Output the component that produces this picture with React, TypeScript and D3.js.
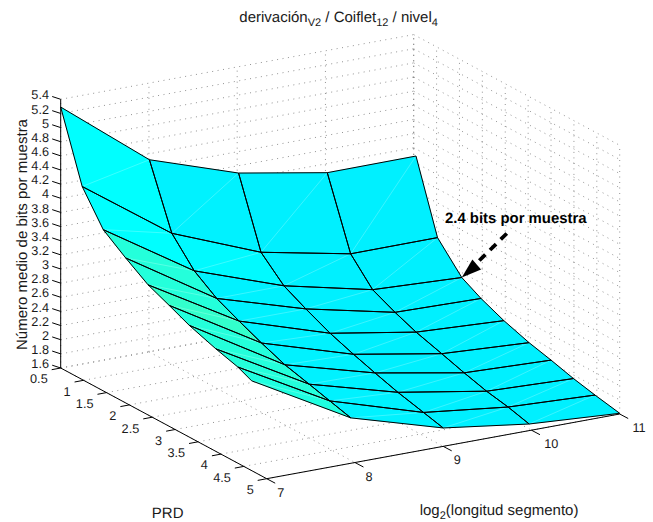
import React from "react";
import * as d3 from "d3";

// axis ticks
const xTicks = [7, 8, 9, 10, 11];
const prdTicks = [0.5, 1, 1.5, 2, 2.5, 3, 3.5, 4, 4.5, 5];
const zTicks = [1.6, 1.8, 2, 2.2, 2.4, 2.6, 2.8, 3, 3.2, 3.4, 3.6, 3.8, 4, 4.2, 4.4, 4.6, 4.8, 5, 5.2, 5.4];

// achieved PRD for each segment length (one list per log2 length)
const prd7 = [0.5, 0.97, 1.43, 1.92, 2.41, 2.87, 3.31, 3.89, 4.37, 4.67];
const prd8 = [0.51, 1.0, 1.49, 1.98, 2.47, 2.96, 3.47, 4.0, 4.45, 4.91];
const prd9 = [0.53, 1.02, 1.52, 2.0, 2.53, 3.04, 3.51, 4.01, 4.57, 5.0];
const prd10 = [0.54, 1.05, 1.53, 2.02, 2.48, 3.04, 3.53, 4.02, 4.49, 4.95];
const prd11 = [0.55, 1.02, 1.55, 1.97, 2.47, 3.02, 3.5, 3.99, 4.46, 5.0];

// mean bits per sample
const bits7 = [5.29, 4.33, 3.88, 3.65, 3.44, 3.31, 3.18, 3.05, 2.96, 2.87];
const bits8 = [4.32, 3.45, 3.09, 2.87, 2.72, 2.58, 2.45, 2.36, 2.28, 2.2];
const bits9 = [3.91, 2.96, 2.66, 2.5, 2.34, 2.22, 2.12, 2.02, 1.93, 1.86];
const bits10 = [3.69, 2.72, 2.38, 2.23, 2.11, 2.0, 1.9, 1.81, 1.75, 1.67];
const bits11 = [3.7, 2.71, 2.33, 2.18, 2.04, 1.92, 1.84, 1.75, 1.68, 1.61];

// colour level of each cell (jet colormap position), one list per x interval
const level7 = [0.375, 0.375, 0.41, 0.41, 0.425, 0.41, 0.41, 0.41, 0.405];
const level8 = [0.362, 0.37, 0.362, 0.362, 0.362, 0.362, 0.362, 0.362, 0.362];
const level9 = [0.36, 0.36, 0.36, 0.36, 0.36, 0.36, 0.36, 0.36, 0.36];
const level10 = [0.36, 0.36, 0.36, 0.36, 0.36, 0.36, 0.36, 0.36, 0.36];

const prdColumns = [prd7, prd8, prd9, prd10, prd11];
const bitsColumns = [bits7, bits8, bits9, bits10, bits11];
const levelColumns = [level7, level8, level9, level10];

const width = 653;
const height = 522;
const font = "'Liberation Sans', Arial, sans-serif";
const textColor = "#1a1a1a";

// oblique projection of the 3D box, each data axis contributes a screen vector
const originX = 60.7;
const originY = 368;
const xToSx = d3.scaleLinear().domain([7, 11]).range([0, 353]);
const xToSy = d3.scaleLinear().domain([7, 11]).range([0, -64.7]);
const prdToSx = d3.scaleLinear().domain([0.5, 5]).range([0, 206]);
const prdToSy = d3.scaleLinear().domain([0.5, 5]).range([0, 110.7]);
const zToSy = d3.scaleLinear().domain([1.6, 5.4]).range([0, -268.7]);

const project = (x: number, prd: number, z: number): [number, number] => [
  originX + xToSx(x) + prdToSx(prd),
  originY + xToSy(x) + prdToSy(prd) + zToSy(z),
];

const jet = d3.scaleLinear<string>().domain([0.125, 0.375, 0.625]).range(["#0000ff", "#00ffff", "#ffff00"]);
const path = d3.line();

const seg = (a: [number, number], b: [number, number]) => path([a, b]) as string;
const zMin = 1.6;
const zMax = 5.4;

function Grid() {
  const lines: string[] = [];
  // back wall at PRD 0.5
  zTicks.forEach((z) => lines.push(seg(project(7, 0.5, z), project(11, 0.5, z))));
  xTicks.forEach((x) => lines.push(seg(project(x, 0.5, zMin), project(x, 0.5, zMax))));
  // right wall at log2 = 11
  zTicks.forEach((z) => lines.push(seg(project(11, 0.5, z), project(11, 5, z))));
  prdTicks.forEach((p) => lines.push(seg(project(11, p, zMin), project(11, p, zMax))));
  // floor
  xTicks.forEach((x) => lines.push(seg(project(x, 0.5, zMin), project(x, 5, zMin))));
  prdTicks.forEach((p) => lines.push(seg(project(7, p, zMin), project(11, p, zMin))));
  return (
    <g fill="none" stroke="#000" strokeWidth={0.7} strokeDasharray="1 4.5" opacity={0.6}>
      {lines.map((d, i) => (
        <path key={i} d={d} />
      ))}
    </g>
  );
}

function Surface() {
  const vertex = (col: number, row: number) =>
    project(xTicks[col], prdColumns[col][row], bitsColumns[col][row]);
  const cells = levelColumns.flatMap((levels, col) =>
    levels.map((level, row) => {
      const a = vertex(col, row);
      const b = vertex(col + 1, row);
      const c = vertex(col + 1, row + 1);
      const d = vertex(col, row + 1);
      return { key: `${col}-${row}`, fill: jet(level), outline: path([a, b, c, d, a]) as string, seam: seg(d, b) };
    })
  );
  return (
    <g>
      {cells.map((c) => (
        <path key={c.key} d={c.outline} fill={c.fill} stroke={c.fill} strokeWidth={0.4} />
      ))}
      {cells.map((c) => (
        <path key={c.key} d={c.seam} fill="none" stroke="#fff" strokeOpacity={0.4} strokeWidth={0.6} />
      ))}
      {cells.map((c) => (
        <path key={c.key} d={c.outline} fill="none" stroke="#000" strokeWidth={1} strokeLinejoin="round" />
      ))}
    </g>
  );
}

function Axes() {
  return (
    <g stroke="#000" strokeWidth={1} fill="none">
      <path d={seg(project(7, 0.5, zMin), project(7, 0.5, zMax))} />
      <path d={seg(project(7, 0.5, zMin), project(7, 5, zMin))} />
      <path d={seg(project(7, 5, zMin), project(11, 5, zMin))} />
      {zTicks.map((z) => {
        const [px, py] = project(7, 0.5, z);
        return <path key={z} d={seg([px - 8.5, py - 2.8], [px, py])} />;
      })}
      {prdTicks.map((p) => {
        const [px, py] = project(7, p, zMin);
        return <path key={p} d={seg([px - 9, py + 1.7], [px, py])} />;
      })}
      {xTicks.map((x) => {
        const [px, py] = project(x, 5, zMin);
        return <path key={x} d={seg([px + 8.5, py + 4.5], [px, py])} />;
      })}
    </g>
  );
}

function TickLabels() {
  return (
    <g fontFamily={font} fontSize={12.7} fill={textColor}>
      {zTicks.map((z) => {
        const [px, py] = project(7, 0.5, z);
        return (
          <text key={z} x={px - 11.7} y={py - 4.5} dy="0.36em" textAnchor="end">
            {z}
          </text>
        );
      })}
      {prdTicks.map((p) => {
        const [px, py] = project(7, p, zMin);
        return (
          <text key={p} x={px - 13} y={py + 10.8} dy="0.36em" textAnchor="end">
            {p}
          </text>
        );
      })}
      {xTicks.map((x) => {
        const [px, py] = project(x, 5, zMin);
        return (
          <text key={x} x={px + (x >= 10 ? 12.7 : 10.6)} y={py + 13.5} dy="0.36em">
            {x}
          </text>
        );
      })}
    </g>
  );
}

function Arrow() {
  // points at the 2.4 bit vertex of the longest segment column
  const [tx, ty] = project(11, prd11[2], bits11[2]);
  return (
    <g>
      <path
        d={seg([tx + 45, ty - 44], [tx + 16, ty - 15.5])}
        stroke="#000"
        strokeWidth={3.8}
        strokeDasharray="8.5 6.5"
        fill="none"
      />
      <path d={path([[tx, ty], [tx + 10.6, ty - 18], [tx + 19.3, ty - 8], [tx, ty]]) as string} fill="#000" />
      <text x={445} y={218} dy="0.36em" fontFamily={font} fontSize={14.9} fontWeight="bold" fill="#000">
        2.4 bits por muestra
      </text>
    </g>
  );
}

function Labels() {
  return (
    <g fontFamily={font} fontSize={15} fill={textColor}>
      <text x={239.3} y={22}>
        derivación
        <tspan fontSize={11} dy={4}>V2</tspan>
        <tspan dy={-4}> / Coiflet</tspan>
        <tspan fontSize={11} dy={4}>12</tspan>
        <tspan dy={-4}> / nivel</tspan>
        <tspan fontSize={11} dy={4}>4</tspan>
      </text>
      <text transform="translate(26.5,234.5) rotate(-90)" textAnchor="middle">
        Número medio de bits por muestra
      </text>
      <text x={167.7} y={518.4} textAnchor="middle">
        PRD
      </text>
      <text x={419.7} y={514.5}>
        log
        <tspan fontSize={11} dy={4}>2</tspan>
        <tspan dy={-4}>(longitud segmento)</tspan>
      </text>
    </g>
  );
}

export default function App() {
  return (
    <svg
      width={width}
      height={height}
      viewBox={`0 0 ${width} ${height}`}
      textRendering="geometricPrecision"
      style={{ position: "absolute", left: 0, top: 0, background: "#fff" }}
    >
      <Grid />
      <Surface />
      <Axes />
      <TickLabels />
      <Arrow />
      <Labels />
    </svg>
  );
}
